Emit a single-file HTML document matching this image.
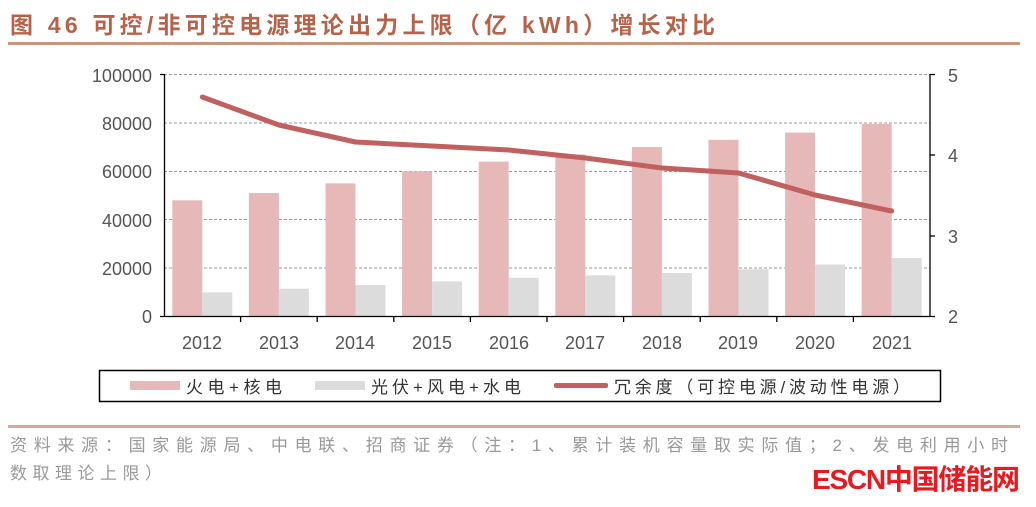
<!DOCTYPE html><html><head><meta charset="utf-8"><style>
body{margin:0;width:1036px;height:502px;background:#fff;overflow:hidden;font-family:"Liberation Sans","Noto Sans CJK SC",sans-serif}
</style></head><body>
<svg width="1036" height="502" xmlns="http://www.w3.org/2000/svg" font-family="Liberation Sans, Noto Sans CJK SC, sans-serif">
<text x="10" y="33" font-size="23" font-weight="bold" fill="#b5634a" textLength="705">图 46  可控/非可控电源理论出力上限（亿 kWh）增长对比</text>
<rect x="8" y="42" width="1012" height="3" fill="#c9957f"/>
<g stroke="#999" stroke-dasharray="3,2" stroke-width="1">
<line x1="164" x2="930" y1="74.5" y2="74.5"/><line x1="164" x2="930" y1="123" y2="123"/><line x1="164" x2="930" y1="171.5" y2="171.5"/><line x1="164" x2="930" y1="219.5" y2="219.5"/><line x1="164" x2="930" y1="268" y2="268"/>
</g>
<g fill="#e6b8b8">
<rect x="172.3" y="200.3" width="30" height="116.2"/>
<rect x="248.9" y="193" width="30" height="123.5"/>
<rect x="325.5" y="183.4" width="30" height="133.1"/>
<rect x="402.1" y="171.3" width="30" height="145.2"/>
<rect x="478.7" y="161.6" width="30" height="154.9"/>
<rect x="555.3" y="154.4" width="30" height="162.1"/>
<rect x="631.9" y="147.1" width="30" height="169.4"/>
<rect x="708.5" y="139.8" width="30" height="176.7"/>
<rect x="785.1" y="132.6" width="30" height="183.9"/>
<rect x="861.7" y="124" width="30" height="192.5"/>
</g>
<g fill="#dcdcdc">
<rect x="202.3" y="292.3" width="30" height="24.2"/>
<rect x="278.9" y="288.7" width="30" height="27.8"/>
<rect x="355.5" y="285" width="30" height="31.5"/>
<rect x="432.1" y="281.4" width="30" height="35.1"/>
<rect x="508.7" y="277.8" width="30" height="38.7"/>
<rect x="585.3" y="275.4" width="30" height="41.1"/>
<rect x="661.9" y="273" width="30" height="43.5"/>
<rect x="738.5" y="269.3" width="30" height="47.2"/>
<rect x="815.1" y="264.5" width="30" height="52"/>
<rect x="891.7" y="258" width="30" height="58.5"/>
</g>
<g stroke="#000" stroke-width="1.3">
<line x1="164.5" y1="74" x2="164.5" y2="317"/>
<line x1="160" y1="74.5" x2="165" y2="74.5"/>
<line x1="930" y1="74" x2="930" y2="317"/>
<line x1="930" y1="74.5" x2="935" y2="74.5"/>
<line x1="930" y1="155" x2="935" y2="155"/>
<line x1="930" y1="236" x2="935" y2="236"/>
<line x1="160" y1="316.5" x2="935" y2="316.5"/>
<line x1="240.6" y1="316" x2="240.6" y2="322"/><line x1="317.2" y1="316" x2="317.2" y2="322"/><line x1="393.8" y1="316" x2="393.8" y2="322"/><line x1="470.4" y1="316" x2="470.4" y2="322"/><line x1="547" y1="316" x2="547" y2="322"/><line x1="623.6" y1="316" x2="623.6" y2="322"/><line x1="700.2" y1="316" x2="700.2" y2="322"/><line x1="776.8" y1="316" x2="776.8" y2="322"/><line x1="853.4" y1="316" x2="853.4" y2="322"/>
</g>
<g font-size="18" fill="#555" text-anchor="end">
<text x="152" y="82">100000</text><text x="152" y="130">80000</text><text x="152" y="178">60000</text><text x="152" y="227">40000</text><text x="152" y="275">20000</text><text x="152" y="323">0</text>
</g>
<g font-size="18" fill="#555">
<text x="948" y="82">5</text><text x="948" y="162">4</text><text x="948" y="243">3</text><text x="948" y="323">2</text>
</g>
<g font-size="18" fill="#555" text-anchor="middle">
<text x="202" y="349">2012</text><text x="279" y="349">2013</text><text x="355" y="349">2014</text><text x="432" y="349">2015</text><text x="509" y="349">2016</text><text x="585" y="349">2017</text><text x="662" y="349">2018</text><text x="738" y="349">2019</text><text x="815" y="349">2020</text><text x="892" y="349">2021</text>
</g>
<polyline fill="none" stroke="#c0605f" stroke-width="5" stroke-linejoin="round" stroke-linecap="round" points="202.3,97 278.9,125 355.5,142 432.1,146 508.7,150 585.3,158 661.9,168 738.5,173 815.1,195 891.7,211"/>
<rect x="99.5" y="370.5" width="841" height="31" fill="none" stroke="#000" stroke-width="1.5"/>
<rect x="130" y="381" width="50" height="9" fill="#e6b8b8"/><text x="186" y="393" font-size="17" fill="#333" textLength="96">火电+核电</text>
<rect x="315" y="381" width="50" height="9" fill="#dcdcdc"/><text x="371" y="393" font-size="17" fill="#333" textLength="150">光伏+风电+水电</text>
<rect x="554" y="383" width="54" height="5" rx="2" fill="#c0605f"/><text x="614" y="393" font-size="17" fill="#333" textLength="296">冗余度（可控电源/波动性电源）</text>
<rect x="8" y="425" width="1012" height="3" fill="#d4a996"/>
<text x="10" y="451" font-size="17" fill="#999" textLength="998">资料来源：国家能源局、中电联、招商证券（注：1、累计装机容量取实际值；2、发电利用小时</text>
<text x="10" y="479" font-size="17" fill="#999" textLength="152">数取理论上限）</text>
<text x="812" y="489" font-size="28" font-weight="bold" fill="#e8191f" textLength="208">ESCN中国储能网</text>
</svg></body></html>
